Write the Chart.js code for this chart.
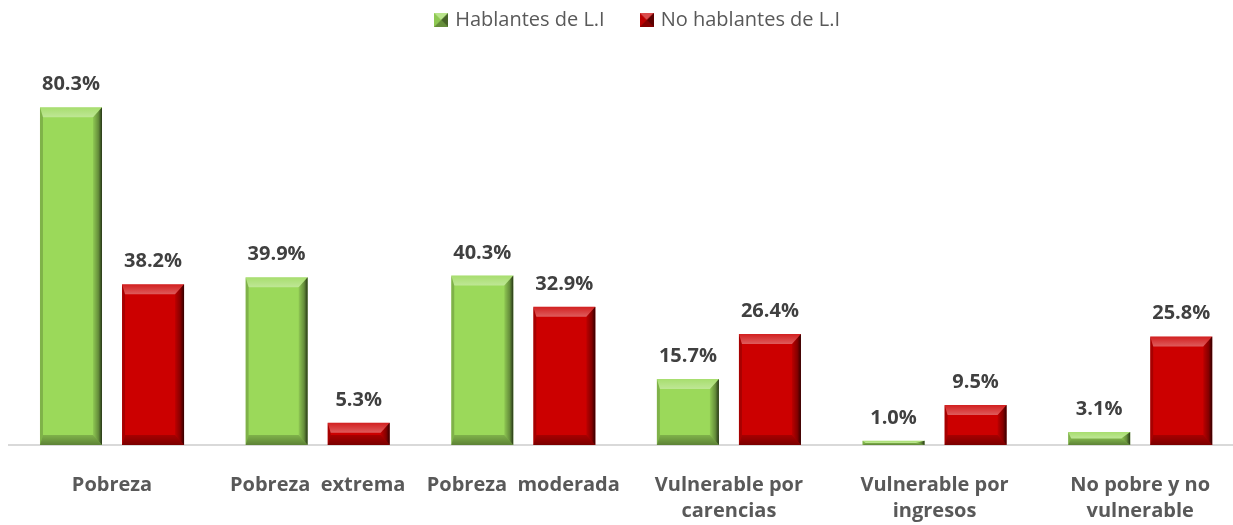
<!DOCTYPE html>
<html><head><meta charset="utf-8">
<script src="https://cdn.jsdelivr.net/npm/chart.js@4/dist/chart.umd.min.js"></script>
<style>
html,body{margin:0;padding:0;background:#fff;overflow:hidden}
#wrap{width:1233px;height:525px;overflow:hidden;position:relative;background:#fff}
canvas{display:block}
</style></head><body>
<div id="wrap"><canvas id="c" width="1268" height="525" style="width:1268px;height:525px"></canvas></div>
<script>
const categories = [["Pobreza"], ["Pobreza  extrema"], ["Pobreza  moderada"], ["Vulnerable por", "carencias"], ["Vulnerable por", "ingresos"], ["No pobre y no", "vulnerable"]];
const seriesNames = ["Hablantes de L.I", "No hablantes de L.I"];
const hablantes = [80.3, 39.9, 40.3, 15.7, 1.0, 3.1];
const noHablantes = [38.2, 5.3, 32.9, 26.4, 9.5, 25.8];
const yMin = 0, yMax = 96.3;
const seriesColors = ['#9BD95A', '#CC0000'];
const FONT = "'Open Sans', 'DejaVu Sans', sans-serif";

function poly(ctx, pts, fill) {
  ctx.beginPath();
  ctx.moveTo(pts[0][0], pts[0][1]);
  for (let i = 1; i < pts.length; i++) ctx.lineTo(pts[i][0], pts[i][1]);
  ctx.closePath();
  ctx.fillStyle = fill;
  ctx.fill();
}

function bevel(ctx, x0, y0, x1, y1) {
  const h = y1 - y0;
  if (h <= 0) return;
  let st = 10, sb = 10;
  const sl = 3, sr = 9;
  const k = Math.min(1, h / (st + sb));
  st *= k; sb *= k;
  let g = ctx.createLinearGradient(0, y0, 0, y0 + st);
  g.addColorStop(0, 'rgba(255,255,255,0.12)');
  g.addColorStop(1, 'rgba(255,255,255,0.36)');
  poly(ctx, [[x0, y0], [x1, y0], [x1 - sr, y0 + st], [x0 + sl, y0 + st]], g);
  g = ctx.createLinearGradient(0, y1 - sb, 0, y1);
  g.addColorStop(0, 'rgba(0,0,0,0.18)');
  g.addColorStop(1, 'rgba(0,0,0,0.4)');
  poly(ctx, [[x0, y1], [x1, y1], [x1 - sr, y1 - sb], [x0 + sl, y1 - sb]], g);
  g = ctx.createLinearGradient(x1 - sr, 0, x1, 0);
  g.addColorStop(0, 'rgba(0,0,0,0.08)');
  g.addColorStop(0.6, 'rgba(0,0,0,0.35)');
  g.addColorStop(1, 'rgba(0,0,0,0.75)');
  poly(ctx, [[x1, y0], [x1, y1], [x1 - sr, y1 - sb], [x1 - sr, y0 + st]], g);
  poly(ctx, [[x0, y0], [x0, y1], [x0 + sl, y1 - sb], [x0 + sl, y0 + st]], 'rgba(0,0,0,0.18)');
}

function makeIcon(color) {
  const c = document.createElement('canvas');
  c.width = 14; c.height = 14;
  const x = c.getContext('2d');
  x.fillStyle = color; x.fillRect(0, 0, 14, 14);
  poly(x, [[0, 0], [14, 0], [7, 7]], 'rgba(255,255,255,0.3)');
  poly(x, [[14, 0], [14, 14], [7, 7]], 'rgba(0,0,0,0.55)');
  poly(x, [[0, 14], [14, 14], [7, 7]], 'rgba(0,0,0,0.35)');
  poly(x, [[0, 0], [0, 14], [7, 7]], 'rgba(0,0,0,0.08)');
  return c;
}
const icons = seriesColors.map(makeIcon);

const bevelLabels = {
  id: 'bevelLabels',
  afterDatasetsDraw(chart) {
    const ctx = chart.ctx;
    ctx.save();
    chart.data.datasets.forEach((ds, di) => {
      const meta = chart.getDatasetMeta(di);
      meta.data.forEach((bar) => {
        const p = bar.getProps(['x', 'y', 'base', 'width'], true);
        bevel(ctx, p.x - p.width / 2, Math.min(p.y, p.base), p.x + p.width / 2, Math.max(p.y, p.base));
      });
    });
    ctx.font = "bold 20px " + FONT;
    ctx.fillStyle = '#404040';
    ctx.textAlign = 'center';
    ctx.textBaseline = 'alphabetic';
    chart.data.datasets.forEach((ds, di) => {
      const meta = chart.getDatasetMeta(di);
      meta.data.forEach((bar, i) => {
        const p = bar.getProps(['x', 'y'], true);
        ctx.fillText(ds.data[i].toFixed(1) + '%', p.x, p.y - 17);
      });
    });
    ctx.restore();
  }
};

new Chart(document.getElementById('c'), {
  type: 'bar',
  data: {
    labels: categories,
    datasets: [
      { label: seriesNames[0], data: hablantes, backgroundColor: seriesColors[0], borderWidth: 0, categoryPercentage: 0.798, barPercentage: 0.756 },
      { label: seriesNames[1], data: noHablantes, backgroundColor: seriesColors[1], borderWidth: 0, categoryPercentage: 0.798, barPercentage: 0.756 }
    ]
  },
  options: {
    responsive: false,
    animation: false,
    devicePixelRatio: 1,
    layout: { padding: { top: -28, left: 9.2, right: 0, bottom: 1 } },
    plugins: {
      legend: {
        position: 'top',
        labels: {
          usePointStyle: true, pointStyleWidth: 8, boxWidth: 8, boxHeight: 14, padding: 38,
          color: '#595959', font: { family: FONT, size: 20 },
          generateLabels: (chart) => chart.data.datasets.map((ds, i) => ({
            text: ds.label, pointStyle: icons[i], fillStyle: ds.backgroundColor,
            strokeStyle: 'rgba(0,0,0,0)', lineWidth: 0, hidden: false, datasetIndex: i, fontColor: '#595959'
          }))
        }
      },
      tooltip: { enabled: false }
    },
    scales: {
      x: {
        grid: { display: true, color: 'rgba(0,0,0,0)', drawTicks: false },
        border: { display: true, color: '#D9D9D9', width: 2 },
        ticks: { padding: 27, color: '#595959', maxRotation: 0, autoSkip: false,
          font: { family: FONT, size: 20, weight: 'bold', lineHeight: 26 / 20 } },
        afterFit(s) { s.height = 79; }
      },
      y: {
        position: 'right', min: yMin, max: yMax, display: true,
        grid: { display: false }, border: { display: false }, ticks: { display: false },
        afterFit(s) { s.width = 25; }
      }
    }
  },
  plugins: [bevelLabels]
});
</script>
</body></html>
